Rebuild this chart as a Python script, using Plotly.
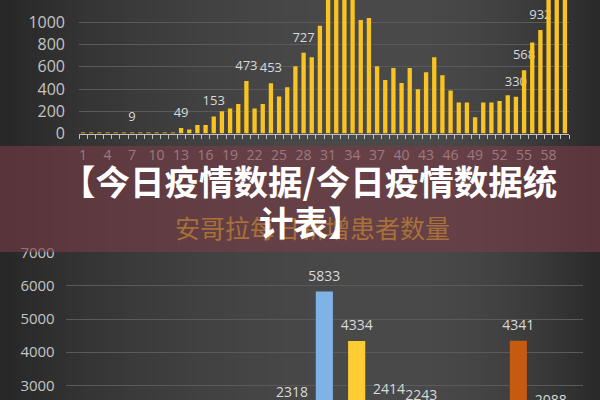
import base64
import struct
import zlib

import numpy as np
import plotly.graph_objects as go

# ---------------- data ----------------
top_days = list(range(1, 61))
top_values = [9, 8, 10, 9, 10, 9, 9, 10, 9, 10, 9, 10,
              49, 36, 77, 77, 153, 200, 226, 265, 473, 226, 265, 453,
              333, 417, 604, 727, 685, 970, 1320, 1360, 1290, 1340,
              1021, 1039, 604, 482, 589, 455, 589, 399, 551, 685,
              524, 387, 280, 280, 146, 280, 280, 292, 345, 330,
              568, 818, 932, 1260, 1380, 1450]
top_labeled_days = [7, 13, 17, 21, 24, 28, 54, 55, 57]
top_tick_days = top_days[::3]
top_y_ticks = [0, 200, 400, 600, 800, 1000, 1200]

bottom_slots = ["s1", "s2", "s3", "s4", "s5", "s6", "s7", "s8", "s9"]
bottom_values = [2318, 5833, 4334, 2414, 2243, None, None, 4341, 2088]
bottom_colors = ["#a5a5a5", "#7fb2e5", "#ffcd33", "#a5a5a5", "#a5a5a5",
                 "#a5a5a5", "#a5a5a5", "#c55a11", "#a5a5a5"]
bottom_y_ticks = [3000, 4000, 5000, 6000, 7000]

banner_line1 = "【今日疫情数据/今日疫情数据统"
banner_line2 = "计表】"
bottom_title = "安哥拉每日新增患者数量"

# ---------------- background gradient (style only) ----------------
W, H = 120, 80
xs = np.linspace(0, 600, W)
prof = np.where(xs <= 400,
                74 - 34 * ((xs - 400) / 400) ** 2,
                74 - 32 * ((xs - 400) / 200) ** 2)
img = np.tile(prof, (H, 1)).clip(0, 255).astype(np.uint8)


def png_gray(arr):
    h, w = arr.shape
    raw = b"".join(b"\x00" + bytes(row) for row in arr)

    def chunk(t, d):
        return (struct.pack(">I", len(d)) + t + d
                + struct.pack(">I", zlib.crc32(t + d) & 0xFFFFFFFF))
    return (b"\x89PNG\r\n\x1a\n"
            + chunk(b"IHDR", struct.pack(">IIBBBBB", w, h, 8, 0, 0, 0, 0))
            + chunk(b"IDAT", zlib.compress(raw))
            + chunk(b"IEND", b""))


bg_src = "data:image/png;base64," + base64.b64encode(png_gray(img)).decode()

FONT = "Open Sans"
CJK = "Noto Sans CJK SC"

TOP_X_RANGE = [0.5, 60.5]
TOP_Y_RANGE = [0, 1201]

fig = go.Figure()

# top chart labels (base subplot, so the bars drawn above can hide them)
top_text = [str(v) if d in top_labeled_days else "" for d, v in zip(top_days, top_values)]
fig.add_trace(go.Scatter(
    x=top_days, y=top_values, xaxis="x", yaxis="y",
    mode="markers+text", text=top_text, textposition="top center",
    marker=dict(size=11, color="rgba(0,0,0,0)"),
    textfont=dict(family=FONT, size=13, color="#d9d9d9"),
    hoverinfo="skip", cliponaxis=False,
))
# top chart bars (overlay subplot)
fig.add_trace(go.Bar(
    x=top_days, y=top_values, xaxis="x3", yaxis="y3",
    marker=dict(color="#f9c322", line=dict(width=0)),
    hoverinfo="skip",
))

# bottom chart bars
fig.add_trace(go.Bar(
    x=bottom_slots, y=bottom_values, xaxis="x2", yaxis="y2",
    marker=dict(color=bottom_colors, line=dict(width=0)),
    hoverinfo="skip",
))
bottom_text = ["" if v is None else str(v) for v in bottom_values]
fig.add_trace(go.Scatter(
    x=bottom_slots, y=bottom_values, xaxis="x2", yaxis="y2",
    mode="markers+text", text=bottom_text, textposition="top center",
    marker=dict(size=10, color="rgba(0,0,0,0)"),
    textfont=dict(family=FONT, size=14, color="#d9d9d9"),
    hoverinfo="skip", cliponaxis=True,
))

fig.update_layout(
    width=600, height=400,
    margin=dict(l=0, r=0, t=0, b=0, autoexpand=False),
    paper_bgcolor="#3c3c3c",
    plot_bgcolor="rgba(0,0,0,0)",
    showlegend=False,
    bargap=0.47,
    images=[dict(source=bg_src, xref="paper", yref="paper", x=0, y=1,
                 sizex=1, sizey=1, sizing="stretch", layer="below")],
    xaxis=dict(
        domain=[79 / 600, 569 / 600], range=TOP_X_RANGE, automargin=False,
        tickmode="array", tickvals=top_tick_days,
        ticks="", showgrid=False, zeroline=False,
        showline=True, linecolor="#bfbfbf", linewidth=1,
        tickfont=dict(family=FONT, size=14, color="#d9d9d9"),
        ticklabelstandoff=9,
        minor=dict(tickmode="linear", tick0=0.5, dtick=1, ticks="outside",
                   ticklen=4, tickcolor="#bfbfbf", tickwidth=1, showgrid=False),
        anchor="y",
    ),
    yaxis=dict(
        domain=[1 - 133.5 / 400, 1], range=TOP_Y_RANGE, automargin=False,
        tickmode="array", tickvals=top_y_ticks,
        showgrid=True, gridcolor="#5a5a5a", gridwidth=1, zeroline=False,
        showline=False, ticks="",
        tickfont=dict(family=FONT, size=16, color="#c4c4c4"),
        ticklabelstandoff=13,
        anchor="x",
    ),
    xaxis3=dict(overlaying="x", range=TOP_X_RANGE, visible=False,
                automargin=False, anchor="y3"),
    yaxis3=dict(overlaying="y", range=TOP_Y_RANGE, visible=False,
                automargin=False, anchor="x3"),
    xaxis2=dict(
        domain=[65.7 / 600, 583 / 600], type="category", automargin=False,
        categoryorder="array", categoryarray=bottom_slots,
        range=[-7, 9], showticklabels=False, ticks="",
        showgrid=False, zeroline=False, showline=False,
        anchor="y2",
    ),
    yaxis2=dict(
        domain=[0, (400 - 252.7) / 400], range=[2557, 7001], automargin=False,
        tickmode="array", tickvals=bottom_y_ticks,
        showgrid=True, gridcolor="#5a5a5a", gridwidth=1, zeroline=False,
        showline=False, ticks="",
        tickfont=dict(family=FONT, size=15, color="#c4c4c4"),
        ticklabelstandoff=10,
        anchor="x2",
    ),
    shapes=[dict(type="rect", xref="paper", yref="paper",
                 x0=0, x1=1, y0=1 - 252 / 400, y1=1 - 146 / 400,
                 fillcolor="rgba(120,60,70,0.62)", line=dict(width=0),
                 layer="above")],
    annotations=[
        dict(text=bottom_title, xref="paper", yref="paper",
             x=312 / 600, y=1 - 227 / 400, xanchor="center", yanchor="middle",
             showarrow=False,
             font=dict(family=CJK, size=25, color="#a8713a")),
        dict(text=banner_line1, xref="paper", yref="paper",
             x=309 / 600, y=1 - 180 / 400, xanchor="center", yanchor="middle",
             showarrow=False,
             font=dict(family=CJK, size=34.5, color="#ffffff", weight="bold")),
        dict(text=banner_line2, xref="paper", yref="paper",
             x=311 / 600, y=1 - 221 / 400, xanchor="center", yanchor="middle",
             showarrow=False,
             font=dict(family=CJK, size=34.5, color="#ffffff", weight="bold")),
    ],
)

fig.write_html("out.html",
               config={"displayModeBar": False, "staticPlot": True},
               post_script="document.body.style.margin='0';"
                           "document.body.style.overflow='hidden';")
